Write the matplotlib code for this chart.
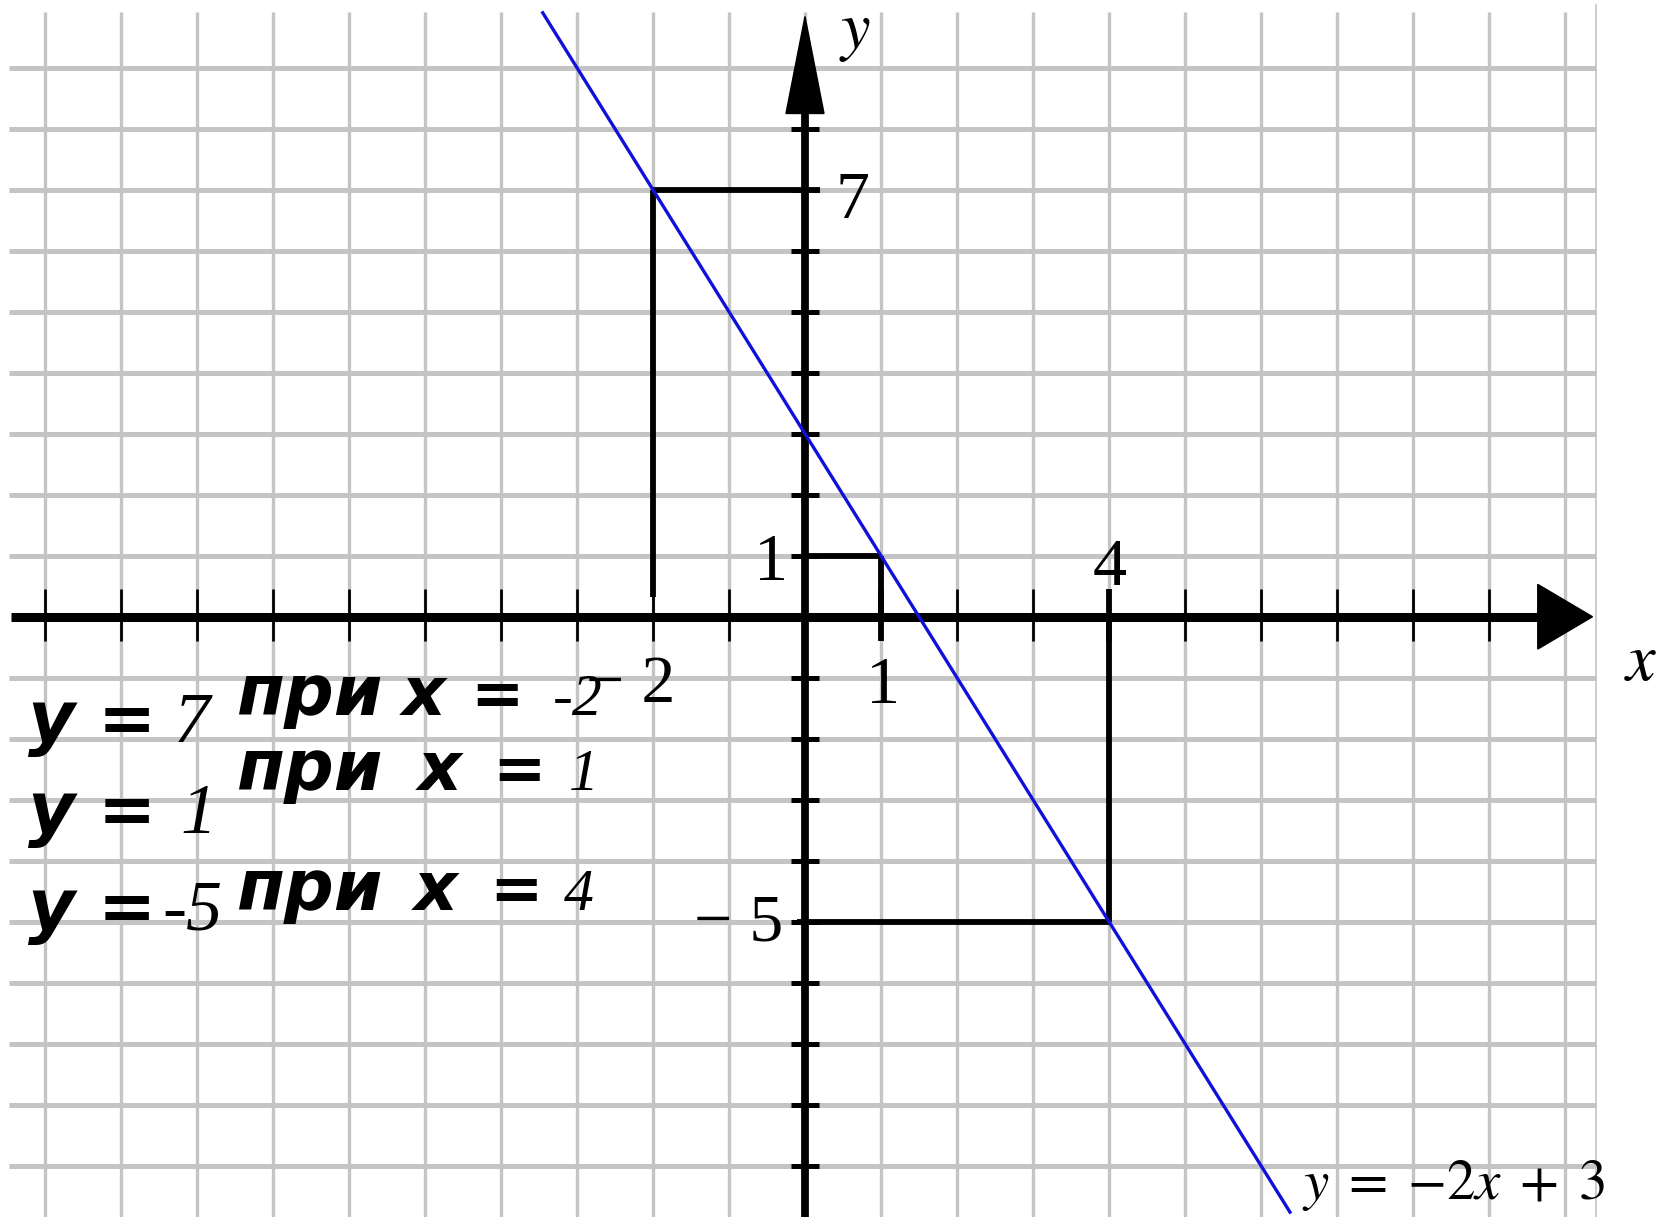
import matplotlib
matplotlib.use("Agg")
import matplotlib.pyplot as plt

plt.rcParams["mathtext.fontset"] = "stix"

# ── data ────────────────────────────────────────────────────────────
grid_x = list(range(-10, 11))                       # vertical grey lines
grid_y = [v for v in range(-9, 10) if v != 0]       # horizontal grey lines
x_ticks = list(range(-10, 10))
y_ticks = [v for v in range(-9, 9) if v != 0]

# graph of y = -2x + 3, end points
line_x = [-3.45, 6.38]
line_y = [9.90, -9.76]

# marked points
pts_x = [-2, 1, 4]
pts_y = [7, 1, -5]

# captions "y = ... при x = ..."
lhs_vals = ["7", "1", "-5"]
rhs_vals = ["-2", "1", "4"]

# ── style ───────────────────────────────────────────────────────────
GRID = "#c4c4c4"
BLUE = "#1010dc"
BLACK = "black"
SANS = dict(family="DejaVu Sans", weight="bold", style="oblique")
SERIF = dict(family="Liberation Serif")
SERIF_IT = dict(family="Liberation Serif", style="italic")

fig = plt.figure(figsize=(16.67, 12.17), dpi=100)
ax = fig.add_axes([0, 0, 1, 1])
ax.set_xlim(-10.59, 11.34)
ax.set_ylim(-9.84, 10.11)
ax.axis("off")

# grid paper
for gx in grid_x:
    ax.plot([gx, gx], [-9.84, 9.92], color=GRID, lw=2.4, zorder=1,
            solid_capstyle="butt")
for gy in grid_y:
    ax.plot([-10.47, 10.40], [gy, gy], color=GRID, lw=3.6, zorder=1,
            solid_capstyle="butt")
ax.plot([10.40, 10.40], [-9.84, 10.03], color=GRID, lw=1.2, zorder=1)

# axes with arrow heads
ax.plot([-10.45, 9.7], [0, 0], color=BLACK, lw=6.5, zorder=5,
        solid_capstyle="butt")
ax.plot([0, 0], [-9.84, 8.3], color=BLACK, lw=5.6, zorder=5,
        solid_capstyle="butt")
ax.fill([9.64, 9.64, 10.36], [-0.53, 0.53, 0], color=BLACK, zorder=5)
ax.fill([-0.25, 0.25, 0], [8.25, 8.25, 9.84], color=BLACK, zorder=5)

for t in x_ticks:
    w = 4.2 if t in pts_x[1:] else 2.0
    ax.plot([t, t], [-0.4, 0.45], color=BLACK, lw=w, zorder=5,
            solid_capstyle="butt")
for t in y_ticks:
    ax.plot([-0.18, 0.18], [t, t], color=BLACK, lw=3.6, zorder=5,
            solid_capstyle="butt")

# guide lines to the marked points
guide_start = [0.33, 0, 0]
guide_end = [0.2, 0, -0.1]
for px, py, y0, x1 in zip(pts_x, pts_y, guide_start, guide_end):
    ax.plot([px, px], [y0, py], color=BLACK, lw=4.2, zorder=3,
            solid_capstyle="butt")
    ax.plot([px, x1], [py, py], color=BLACK, lw=4.2, zorder=3,
            solid_capstyle="butt")

# the graph
ax.plot(line_x, line_y, color=BLUE, lw=2.4, zorder=6)

# axis numbers
ax.text(0.62, 6.54, "7", fontsize=49, ha="center", va="baseline", zorder=7, **SERIF)
ax.text(-0.45, 0.61, "1", fontsize=49, ha="center", va="baseline", zorder=7, **SERIF)
ax.text(4.01, 0.52, "4", fontsize=49, ha="center", va="baseline", zorder=7, **SERIF)
ax.text(1.03, -1.41, "1", fontsize=49, ha="center", va="baseline", zorder=7, **SERIF)
ax.text(-1.71, -1.39, "\u2212 2", fontsize=49, ha="right", va="baseline", zorder=7, **SERIF)
ax.text(-0.29, -5.30, "\u2212 5", fontsize=49, ha="right", va="baseline", zorder=7, **SERIF)

ax.text(0.66, 9.33, "$y$", fontsize=48, ha="center", va="baseline", zorder=7)
ax.text(10.99, -1.03, "$x$", fontsize=48, ha="center", va="baseline", zorder=7)
ax.text(10.52, -9.54, r"$y\;=\;{-}2x\;+\;3$", fontsize=41, ha="right",
        va="baseline", zorder=7)

# captions
row_lhs_base = [-2.05, -3.54, -5.13]
row_rhs_base = [-1.61, -2.84, -4.80]
lhs_x = [-8.30, -8.22, -8.45]
x_pos = [-5.30, -5.10, -5.15]
eq_pos = [-4.40, -4.12, -4.15]
rhs_x = [-3.32, -3.10, -3.17]
for i in range(3):
    b1, b2 = row_lhs_base[i], row_rhs_base[i]
    ax.text(-10.22, b1, "y", fontsize=52, ha="left", va="baseline", zorder=7, **SANS)
    ax.text(-9.30, b1, "=", fontsize=50, ha="left", va="baseline", zorder=7, **SANS)
    ax.text(lhs_x[i], b1, lhs_vals[i], fontsize=52, ha="left", va="baseline",
            zorder=7, **SERIF_IT)
    ax.text(-7.48, b2, "при", fontsize=50, ha="left", va="baseline", zorder=7, **SANS)
    ax.text(x_pos[i], b2, "x", fontsize=49, ha="left", va="baseline", zorder=7, **SANS)
    ax.text(eq_pos[i], b2, "=", fontsize=46, ha="left", va="baseline", zorder=7, **SANS)
    ax.text(rhs_x[i], b2, rhs_vals[i], fontsize=43, ha="left", va="baseline",
            zorder=7, **SERIF_IT)

fig.savefig("out.png", dpi=100, facecolor="white")
